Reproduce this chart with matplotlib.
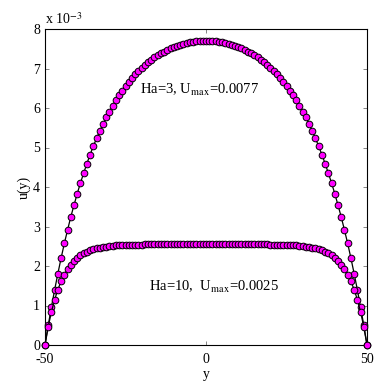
import numpy as np
import matplotlib
matplotlib.use("Agg")
import matplotlib.pyplot as plt

plt.rcParams["font.family"] = ["Liberation Serif", "DejaVu Serif"]
plt.rcParams["mathtext.fontset"] = "stix"

# lattice nodes across the channel
y_nodes = [-50, -49, -48, -47, -46, -45, -44, -43, -42, -41, -40, -39, -38, -37, -36, -35, -34,
           -33, -32, -31, -30, -29, -28, -27, -26, -25, -24, -23, -22, -21, -20, -19, -18, -17,
           -16, -15, -14, -13, -12, -11, -10, -9, -8, -7, -6, -5, -4, -3, -2, -1, 0,
           1, 2, 3, 4, 5, 6, 7, 8, 9, 10, 11, 12, 13, 14, 15, 16, 17, 18, 19, 20, 21, 22, 23,
           24, 25, 26, 27, 28, 29, 30, 31, 32, 33, 34, 35, 36, 37, 38, 39, 40, 41, 42, 43, 44,
           45, 46, 47, 48, 49, 50]

# velocity in units of 1e-3
u_ha3 = [0.00, 0.50, 0.96, 1.40, 1.81, 2.20, 2.57, 2.91, 3.24, 3.54, 3.83, 4.10, 4.35, 4.59,
         4.82, 5.03, 5.23, 5.42, 5.59, 5.76, 5.91, 6.06, 6.19, 6.32, 6.44, 6.55, 6.66, 6.75,
         6.85, 6.93, 7.01, 7.09, 7.16, 7.22, 7.28, 7.33, 7.38, 7.43, 7.47, 7.51, 7.54, 7.57,
         7.60, 7.62, 7.64, 7.66, 7.68, 7.69, 7.69, 7.70, 7.70,
         7.70, 7.69, 7.69, 7.68, 7.66, 7.64, 7.62, 7.60, 7.57, 7.54, 7.51, 7.47, 7.43, 7.38,
         7.33, 7.28, 7.22, 7.16, 7.09, 7.01, 6.93, 6.85, 6.75, 6.66, 6.55, 6.44, 6.32, 6.19,
         6.06, 5.91, 5.76, 5.59, 5.42, 5.23, 5.03, 4.82, 4.59, 4.35, 4.10, 3.83, 3.54, 3.24,
         2.91, 2.57, 2.20, 1.81, 1.40, 0.96, 0.50, 0.00]

u_ha10 = [0.000, 0.462, 0.841, 1.151, 1.404, 1.612, 1.782, 1.921, 2.035, 2.128, 2.205, 2.267,
          2.319, 2.361, 2.395, 2.423, 2.446, 2.465, 2.480, 2.493, 2.503, 2.512, 2.519, 2.524,
          2.529, 2.533, 2.536, 2.539, 2.541, 2.542, 2.544, 2.545, 2.546, 2.546, 2.547, 2.548,
          2.548, 2.548, 2.549, 2.549, 2.549, 2.549, 2.550, 2.550, 2.550, 2.550, 2.550, 2.550,
          2.550, 2.550, 2.550,
          2.550, 2.550, 2.550, 2.550, 2.550, 2.550, 2.550, 2.550, 2.549, 2.549, 2.549, 2.549,
          2.548, 2.548, 2.548, 2.547, 2.546, 2.546, 2.545, 2.544, 2.542, 2.541, 2.539, 2.536,
          2.533, 2.529, 2.524, 2.519, 2.512, 2.503, 2.493, 2.480, 2.465, 2.446, 2.423, 2.395,
          2.361, 2.319, 2.267, 2.205, 2.128, 2.035, 1.921, 1.782, 1.612, 1.404, 1.151, 0.841,
          0.462, 0.000]

x_ticks = [-50, 0, 50]
y_ticks = [0, 1, 2, 3, 4, 5, 6, 7, 8]

fig = plt.figure(figsize=(3.82, 3.82), dpi=100)
ax = fig.add_axes([45/382, 37/382, 322/382, 316/382])

for u in (u_ha3, u_ha10):
	ax.plot(y_nodes, u, color='black', linewidth=0.9, marker='o', markersize=4.8,
	        markerfacecolor='#ff00ff', markeredgecolor='black', markeredgewidth=0.7,
	        clip_on=False, zorder=3)

ax.set_xlim(-50, 50)
ax.set_ylim(0, 8)
ax.set_xticks(x_ticks)
ax.set_yticks(y_ticks)
ax.set_xticklabels([str(t) for t in x_ticks])
ax.set_yticklabels([str(t) for t in y_ticks])
ax.tick_params(direction='in', top=True, right=True, labelsize=10, length=3,
               width=0.5, color='#555555')
ax.tick_params(axis='x', pad=5.5)
for s in ax.spines.values():
	s.set_linewidth(0.8)

ax.set_xlabel("y", fontsize=10, labelpad=2)
ax.set_ylabel("u(y)", fontsize=10, labelpad=2)

ax.text(0, 1.005, r"x 10$^{-3}$", transform=ax.transAxes, fontsize=10,
        ha='left', va='bottom')

ax.text(-2, 6.45, r"Ha=3, U$_{\mathrm{max}}$=0.0077", fontsize=10.5, ha='center', va='center')
ax.text(2.5, 1.47, r"Ha=10,  U$_{\mathrm{max}}$=0.0025", fontsize=10.5, ha='center', va='center')

fig.savefig("out.png", dpi=100)
